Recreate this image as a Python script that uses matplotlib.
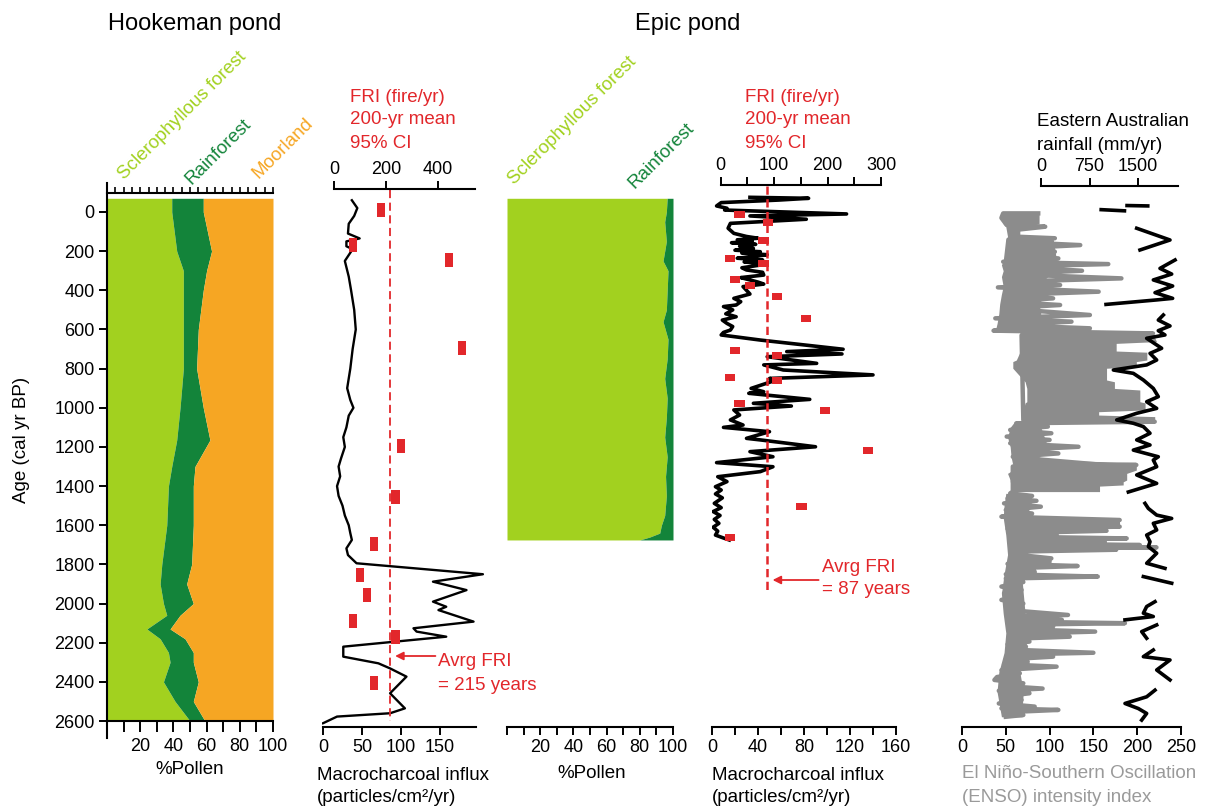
import numpy as np
import matplotlib
matplotlib.use('Agg')
import matplotlib.pyplot as plt
from matplotlib.ticker import FixedLocator

plt.rcParams['font.family'] = ['Liberation Sans', 'DejaVu Sans']

W, H = 1213, 809

SCLERO = '#a2d11f'
RAIN = '#13843a'
MOOR = '#f6a623'
RED = '#e2272b'
GREY = '#8c8c8c'

# ---- Hookeman pond pollen (%)
hk_pollen_age = [-70, 0, 200, 300, 400, 600, 800, 1000, 1165, 1300, 1400, 1600, 1800,
                 1900, 2000, 2060, 2130, 2180, 2250, 2300, 2400, 2500, 2600]
hk_sclero = [39, 39, 42, 46, 46, 46, 46, 44, 42, 39, 37, 36, 33,
             32, 34, 36, 24, 32, 37, 38, 34, 41, 50]
hk_rainforest = [19, 19, 21, 14, 12, 9, 8, 14, 20, 14, 15, 16, 18,
                 16, 18, 8, 14, 15, 15, 14, 21, 11, 9]

# ---- Hookeman pond macrocharcoal
hk_char_age = [-60, -20, 20, 60, 110, 135, 150, 175, 190, 250, 330, 400, 500, 600, 700,
               800, 900, 960, 1000, 1040, 1100, 1150, 1200, 1260, 1300, 1350, 1400,
               1450, 1500, 1550, 1600, 1640, 1675, 1718, 1752, 1794, 1850, 1888, 1931,
               1990, 2016, 2033, 2092, 2126, 2143, 2169, 2220, 2271, 2305, 2331, 2373,
               2458, 2535, 2560, 2577, 2611]
hk_char = [37, 44, 40, 33, 32, 47, 30, 30, 38, 28, 33, 36, 40, 42, 38,
           35, 31, 35, 39, 33, 30, 26, 28, 23, 20, 22, 18,
           20, 25, 28, 33, 35, 37, 30, 32, 43, 205, 141, 184,
           141, 158, 148, 193, 116, 120, 158, 26, 26, 71, 86, 107,
           86, 105, 86, 18, 0]

# ---- Hookeman pond FRI (200-yr mean)
hk_fri_age = [-10, 169, 245, 695, 1195, 1456, 1696, 1854, 1956, 2089, 2171, 2406]
hk_fri = [181, 73, 442, 492, 258, 235, 154, 100, 127, 73, 235, 154]
HK_FRI_MEAN = 215

# ---- Epic pond pollen (%)
ep_pollen_age = [-70, 0, 50, 150, 250, 300, 400, 500, 560, 650, 750, 850, 950,
                 1050, 1150, 1250, 1350, 1450, 1550, 1600, 1640, 1660, 1675]
ep_sclero = [96.5, 96, 95, 96, 94, 97, 96.5, 96, 94, 97, 96.5, 95, 96.5,
             96, 95, 96.5, 95.5, 96, 95, 93, 92, 86, 80]

# ---- Epic pond macrocharcoal
ep_char_age = [-75, -70, -61, -48, -31, -19, -10, 10, 20, 37, 58, 83, 109, 125, 134, 142,
               150, 157, 165, 175, 186, 195, 203, 210, 218, 228, 236, 245, 255, 262, 271,
               285, 296, 308, 322, 335, 347, 358, 368, 381, 400, 419, 441, 458, 475, 483,
               500, 520, 535, 552, 569, 585, 603, 615, 628, 654, 701, 713, 725, 739, 773,
               781, 807, 832, 850, 858, 901, 918, 926, 957, 977, 991, 1011, 1037, 1062,
               1088, 1100, 1122, 1156, 1164, 1199, 1224, 1250, 1280, 1301, 1326, 1352,
               1377, 1403, 1420, 1440, 1460, 1488, 1510, 1530, 1550, 1570, 1590, 1610,
               1630, 1650, 1665, 1675]
ep_char = [33, 84, 58, 8, 4, 13, 11, 117, 33, 82, 16, 14, 19, 30, 40, 22,
           35, 17, 38, 24, 36, 20, 42, 26, 48, 36, 22, 44, 28, 40, 42,
           26, 30, 44, 45, 25, 33, 40, 45, 27, 30, 33, 19, 25, 21, 10,
           18, 12, 21, 9, 13, 18, 16, 10, 8, 42, 114, 65, 113, 48, 91,
           45, 62, 140, 50, 56, 34, 45, 32, 85, 36, 69, 19, 24, 16,
           27, 10, 50, 30, 42, 90, 33, 53, 4, 53, 42, 5,
           13, 3, 8, 3, 9, 2, 8, 1, 7, 2, 6, 1,
           5, 3, 10, 15]

# ---- Epic pond FRI (200-yr mean)
ep_fri_age = [12, 53, 145, 237, 262, 347, 375, 431, 543, 708, 735, 846, 863, 977,
              1013, 1217, 1503, 1662]
ep_fri = [35, 89, 80, 17, 80, 27, 54, 106, 160, 27, 106, 17, 106, 35,
          195, 275, 151, 17]
EP_FRI_MEAN = 87

# ---- ENSO intensity index
enso_age = [7, 7, 30, 66, 75, 90, 126, 134, 152, 169, 186, 203, 220, 237, 254, 266, 279,
            300, 317, 339, 356, 373, 385, 407, 424, 441, 458, 475, 492, 526, 543, 560,
            577, 594, 606, 620, 630, 1062, 1071, 1079, 1096, 1113, 1130, 1147, 1164,
            1181, 1199, 1216, 1233, 1250, 1267, 1280, 1292, 1300, 1428, 1437, 1450,
            1463, 1475, 1488, 1505, 1522, 1540, 1556, 1573, 1580, 1590, 1598, 1607,
            1618, 1628, 1640, 1650, 1658, 1667, 1676, 1684, 1692, 1701, 1707, 1713,
            1719, 1725, 1735, 1750, 1769, 1778, 1786, 1797, 1808, 1820, 1837, 1850,
            1862, 1872, 1890, 1913, 1930, 1947, 1965, 1981, 2000, 2015, 2040, 2058,
            2066, 2083, 2092, 2100, 2108, 2117, 2130, 2143, 2155, 2169, 2180, 2194,
            2208, 2220, 2235, 2251, 2260, 2271, 2285, 2297, 2310, 2322, 2340, 2356,
            2375, 2390, 2407, 2420, 2434, 2445, 2458, 2475, 2492, 2510, 2526, 2535,
            2543, 2555, 2569, 2578]
enso_val = [87, 47, 45, 51, 95, 64, 62, 106, 53, 135, 59, 106, 55, 110, 47, 167, 55,
            137, 51, 182, 55, 112, 41, 156, 51, 104, 49, 112, 47, 146, 38, 125,
            47, 146, 36, 218, 68, 70, 220, 62, 98, 55, 102, 51, 100,
            55, 133, 60, 110, 58, 90, 62, 199, 58, 58, 55, 80,
            52, 85, 48, 90, 50, 80, 45, 180, 55, 178, 60, 180,
            52, 165, 60, 108, 55, 188, 58, 163, 60, 203, 65, 222,
            60, 176, 55, 62, 102, 55, 100, 52, 132, 55, 83, 50,
            155, 50, 70, 45, 68, 48, 66, 45, 70, 52, 72, 121,
            55, 114, 55, 186, 60, 104, 55, 152, 58, 123, 55, 77,
            52, 73, 55, 150, 55, 104, 50, 75, 48, 108, 45, 66,
            40, 37, 70, 45, 92, 42, 77, 45, 68, 42, 83, 45,
            110, 48, 70, 50]
# dense intervals of the ENSO record, drawn as filled envelopes (age, low, high)
enso_b0_age = [7, 60, 75, 126, 134, 250, 270, 300, 330, 380, 420, 470, 520, 570, 606]
enso_b0_lo = [47, 47, 50, 52, 50, 47, 45, 47, 45, 47, 45, 43, 42, 40, 38]
enso_b0_hi = [88, 88, 66, 66, 104, 108, 100, 94, 98, 86, 94, 88, 90, 80, 70]
enso_b1_age = [620, 662, 671, 710, 716, 756, 764, 790, 798, 858, 867, 901, 909, 969,
               975, 1011, 1020, 1037, 1045, 1071]
enso_b1_lo = [68, 68, 66, 66, 66, 62, 58, 58, 58, 70, 72, 74, 74, 74, 72, 70, 70, 70, 70, 70]
enso_b1_hi = [218, 222, 176, 176, 211, 211, 199, 199, 165, 165, 174, 174, 203, 203,
              209, 209, 156, 156, 220, 220]
enso_b2_age = [1071, 1100, 1150, 1200, 1250, 1292, 1318, 1335, 1369, 1378, 1394, 1400, 1428]
enso_b2_lo = [60, 55, 52, 55, 56, 58, 58, 52, 55, 55, 58, 58, 58]
enso_b2_hi = [92, 90, 94, 98, 88, 199, 199, 188, 188, 184, 184, 157, 157]
enso_b3_age = [1437, 1500, 1560, 1650, 1750, 1850, 1950, 2050, 2150, 2250, 2350, 2450, 2578]
enso_b3_lo = [50, 48, 47, 50, 52, 48, 45, 47, 50, 48, 42, 40, 45]
enso_b3_hi = [75, 80, 70, 75, 72, 68, 70, 72, 78, 70, 66, 70, 68]

# ---- Eastern Australian rainfall (mm/yr), gaps as nan
rain_age = [-12, -6, np.nan, -33, -31, np.nan,
            83, 143, 194, np.nan,
            245, 288, 317, 347, 378, 412, 441, 449, 472, np.nan,
            526, 552, 582, 606, 628, 645, 696, 722, 756, 781, 807, 824, 858, 901, 943,
            969, 1003, 1028, 1062, 1079, 1096, 1130, 1164, 1190, 1216, 1250, 1267, 1301,
            1343, 1386, 1430, np.nan,
            1488, 1514, 1548, 1565, 1590, 1624, 1650, 1684, 1709, 1743, 1794, 1820, np.nan,
            1862, 1896, np.nan,
            1990, 2015, 2049, 2066, 2083, np.nan,
            2109, 2143, 2177, np.nan,
            2237, 2271, 2288, 2339, 2390, np.nan,
            2442, 2476, 2510, 2536, 2561, 2595]
rain_mm = [930, 1290, np.nan, 1330, 1650, np.nan,
           1479, 1994, 1530, np.nan,
           2072, 1839, 2020, 1736, 2035, 1762, 2035, 1788, 1005, np.nan,
           1891, 1813, 1994, 1813, 1916, 1633, 1865, 1685, 1788, 1633, 1118, 1427, 1582, 1736, 1813,
           1633, 1788, 1479, 1170, 1427, 1582, 1685, 1479, 1685, 1427, 1813, 1736, 1788,
           1479, 1788, 1350, np.nan,
           1607, 1659, 1788, 2020, 1736, 1788, 1633, 1685, 1659, 1788, 1633, 1916, np.nan,
           1582, 2020, np.nan,
           1762, 1633, 1582, 1736, 1298, np.nan,
           1788, 1556, 1633, np.nan,
           1736, 1582, 1994, 1788, 1994, np.nan,
           1762, 1633, 1298, 1505, 1633, 1556]

# ---------------------------------------------------------------------------
Y0_PX, PX_PER_YR = 212, 0.1958
FS = 13


def age_at(ypx):
    return (ypx - Y0_PX) / PX_PER_YR


fig = plt.figure(figsize=(W / 100, H / 100), dpi=100)


def make_axes(x0, x1, y0, y1):
    ax = fig.add_axes([x0 / W, 1 - y1 / H, (x1 - x0) / W, (y1 - y0) / H])
    ax.set_ylim(age_at(y1), age_at(y0))
    ax.patch.set_alpha(0)
    for s in ax.spines.values():
        s.set_visible(False)
        s.set_linewidth(1.5)
    ax.tick_params(axis='y', left=False, labelleft=False)
    ax.tick_params(axis='x', direction='out', length=6, width=1.4,
                   labelsize=FS, pad=3)
    return ax


def scale_x(ax, x0, x1, zero_px, px_per_unit):
    ax.set_xlim((x0 - zero_px) / px_per_unit, (x1 - zero_px) / px_per_unit)


def top_axis(ax, x0, x1, zero_px, px_per_unit, end, ticks, minor=None):
    top = ax.twiny()
    top.patch.set_alpha(0)
    for s in top.spines.values():
        s.set_visible(False)
    top.spines['top'].set_visible(True)
    top.spines['top'].set_linewidth(1.5)
    top.spines['top'].set_bounds(0, end)
    scale_x(top, x0, x1, zero_px, px_per_unit)
    top.set_xticks(ticks)
    if minor is not None:
        top.xaxis.set_minor_locator(FixedLocator(minor))
    top.tick_params(axis='x', which='both', direction='out', length=6, width=1.4,
                    labelsize=FS, pad=2)
    top.tick_params(axis='y', left=False, right=False, labelleft=False, labelright=False)
    return top


def put(x, y, s, **kw):
    kw.setdefault('fontsize', FS + 0.5)
    fig.text(x / W, 1 - y / H, s, **kw)


# ---- Hookeman pollen
ax = make_axes(107, 273, 193, 721)
ax.set_xlim(0, 100)
s1 = np.array(hk_sclero)
s2 = s1 + np.array(hk_rainforest)
ax.fill_betweenx(hk_pollen_age, 0, s1, color=SCLERO, lw=0)
ax.fill_betweenx(hk_pollen_age, s1, s2, color=RAIN, lw=0)
ax.fill_betweenx(hk_pollen_age, s2, 100, color=MOOR, lw=0)
ax.spines['left'].set_visible(True)
ax.spines['bottom'].set_visible(True)
ax.spines['left'].set_bounds(age_at(183), age_at(738))
ax.set_xticks(range(0, 101, 10))
ax.set_xticklabels(['' if v % 20 or v == 0 else str(v) for v in range(0, 101, 10)])
ax.tick_params(axis='x', length=8, pad=4)
ax.set_yticks(range(0, 2601, 200))
ax.tick_params(axis='y', left=True, labelleft=True, direction='out', length=6,
               width=1.4, labelsize=FS, pad=3)
sec = ax.secondary_xaxis('top')
sec.set_xticks(range(0, 101, 5))
sec.set_xticklabels([])
sec.tick_params(length=4, width=1.2, direction='out')
sec.spines['top'].set_linewidth(1.5)

# ---- Hookeman charcoal
ax = make_axes(322, 490, 189, 727)
scale_x(ax, 322, 490, 323, 0.78)
ax.plot(hk_char, hk_char_age, color='k', lw=1.7)
ax.spines['bottom'].set_visible(True)
ax.spines['bottom'].set_bounds(0, 196)
ax.set_xticks([0, 50, 100, 150])
top = top_axis(ax, 322, 490, 334, 0.26, 542, [0, 200, 400])
top.barh(hk_fri_age, 34, left=np.array(hk_fri) - 17, height=70, color=RED, lw=0)
top.vlines(HK_FRI_MEAN, age_at(190), 2600, color=RED, lw=1.3, linestyles=(0, (4.5, 2.5)))
top.annotate('', xy=(235, age_at(656)), xytext=(390, age_at(656)),
             arrowprops=dict(arrowstyle='-|>', color=RED, lw=1.3, mutation_scale=12,
                             shrinkA=0, shrinkB=0), annotation_clip=False)
put(438, 661, 'Avrg FRI', color=RED, va='center', ha='left')
put(438, 685, '= 215 years', color=RED, va='center', ha='left')

# ---- Epic pollen
ax = make_axes(507, 673, 189, 727)
ax.set_xlim(0, 100)
ax.fill_betweenx(ep_pollen_age, 0, ep_sclero, color=SCLERO, lw=0)
ax.fill_betweenx(ep_pollen_age, ep_sclero, 100, color=RAIN, lw=0)
ax.spines['bottom'].set_visible(True)
ax.set_xticks(range(0, 101, 10))
ax.set_xticklabels(['' if v % 20 or v == 0 else str(v) for v in range(0, 101, 10)])

# ---- Epic charcoal
ax = make_axes(712, 900, 185, 727)
scale_x(ax, 712, 900, 712, 1.15)
ax.plot(ep_char, ep_char_age, color='k', lw=2.6)
ax.spines['bottom'].set_visible(True)
ax.spines['bottom'].set_bounds(0, 160)
ax.set_xticks(range(0, 161, 20))
ax.set_xticklabels(['' if v % 40 else str(v) for v in range(0, 161, 20)])
top = top_axis(ax, 712, 900, 720.7, 0.535, 300, [0, 100, 200, 300], [50, 150, 250])
top.barh(ep_fri_age, 19, left=np.array(ep_fri) - 9.5, height=36, color=RED, lw=0)
top.vlines(EP_FRI_MEAN, age_at(186), age_at(592), color=RED, lw=1.8,
           linestyles=(0, (3.3, 1.8)))
top.annotate('', xy=(97, age_at(580)), xytext=(183, age_at(580)),
             arrowprops=dict(arrowstyle='-|>', color=RED, lw=1.3, mutation_scale=12,
                             shrinkA=0, shrinkB=0), annotation_clip=False)
put(822, 567, 'Avrg FRI', color=RED, va='center', ha='left')
put(822, 590, '= 87 years', color=RED, va='center', ha='left')

# ---- ENSO + rainfall
ax = make_axes(955, 1200, 186, 727)
scale_x(ax, 955, 1200, 962, 0.876)
for b_age, b_lo, b_hi in [(enso_b0_age, enso_b0_lo, enso_b0_hi),
                          (enso_b1_age, enso_b1_lo, enso_b1_hi),
                          (enso_b2_age, enso_b2_lo, enso_b2_hi),
                          (enso_b3_age, enso_b3_lo, enso_b3_hi)]:
    ax.fill_betweenx(b_age, b_lo, b_hi, color=GREY, lw=0)
ax.plot(enso_val, enso_age, color=GREY, lw=3.2)
ax.spines['bottom'].set_visible(True)
ax.spines['bottom'].set_bounds(0, 250)
ax.set_xticks(range(0, 251, 50))
top = top_axis(ax, 955, 1200, 1041, 0.0647, 2120, [0, 750, 1500])
top.plot(rain_mm, rain_age, color='k', lw=2.6)

# ---- texts
put(195, 24, 'Hookeman pond', fontsize=17, ha='center', va='center')
put(688, 24, 'Epic pond', fontsize=17, ha='center', va='center')
put(22, 440, 'Age (cal yr BP)', rotation=90, ha='center', va='center')

rot = dict(rotation=45, ha='left', va='bottom', fontsize=13.5)
put(115, 183, 'Sclerophyllous forest', color=SCLERO, **rot)
put(182, 188, 'Rainforest', color=RAIN, **rot)
put(249, 182, 'Moorland', color=MOOR, **rot)
put(505, 188, 'Sclerophyllous forest', color=SCLERO, **rot)
put(625, 192, 'Rainforest', color=RAIN, **rot)

for x0 in (350, 745):
    put(x0, 97, 'FRI (fire/yr)', color=RED, va='center')
    put(x0, 120, '200-yr mean', color=RED, va='center')
    put(x0, 143, '95% CI', color=RED, va='center')
put(1037, 122, 'Eastern Australian', va='center')
put(1037, 145, 'rainfall (mm/yr)', va='center')

put(190, 770, '%Pollen', ha='center', va='center')
put(592, 773, '%Pollen', ha='center', va='center')
for x0 in (317, 712):
    put(x0, 775, 'Macrocharcoal influx', va='center')
    put(x0, 798, '(particles/cm²/yr)', va='center')
put(962, 773, 'El Niño-Southern Oscillation', color='#9a9a9a', va='center')
put(962, 797, '(ENSO) intensity index', color='#9a9a9a', va='center')

fig.savefig('out.png', dpi=100)
